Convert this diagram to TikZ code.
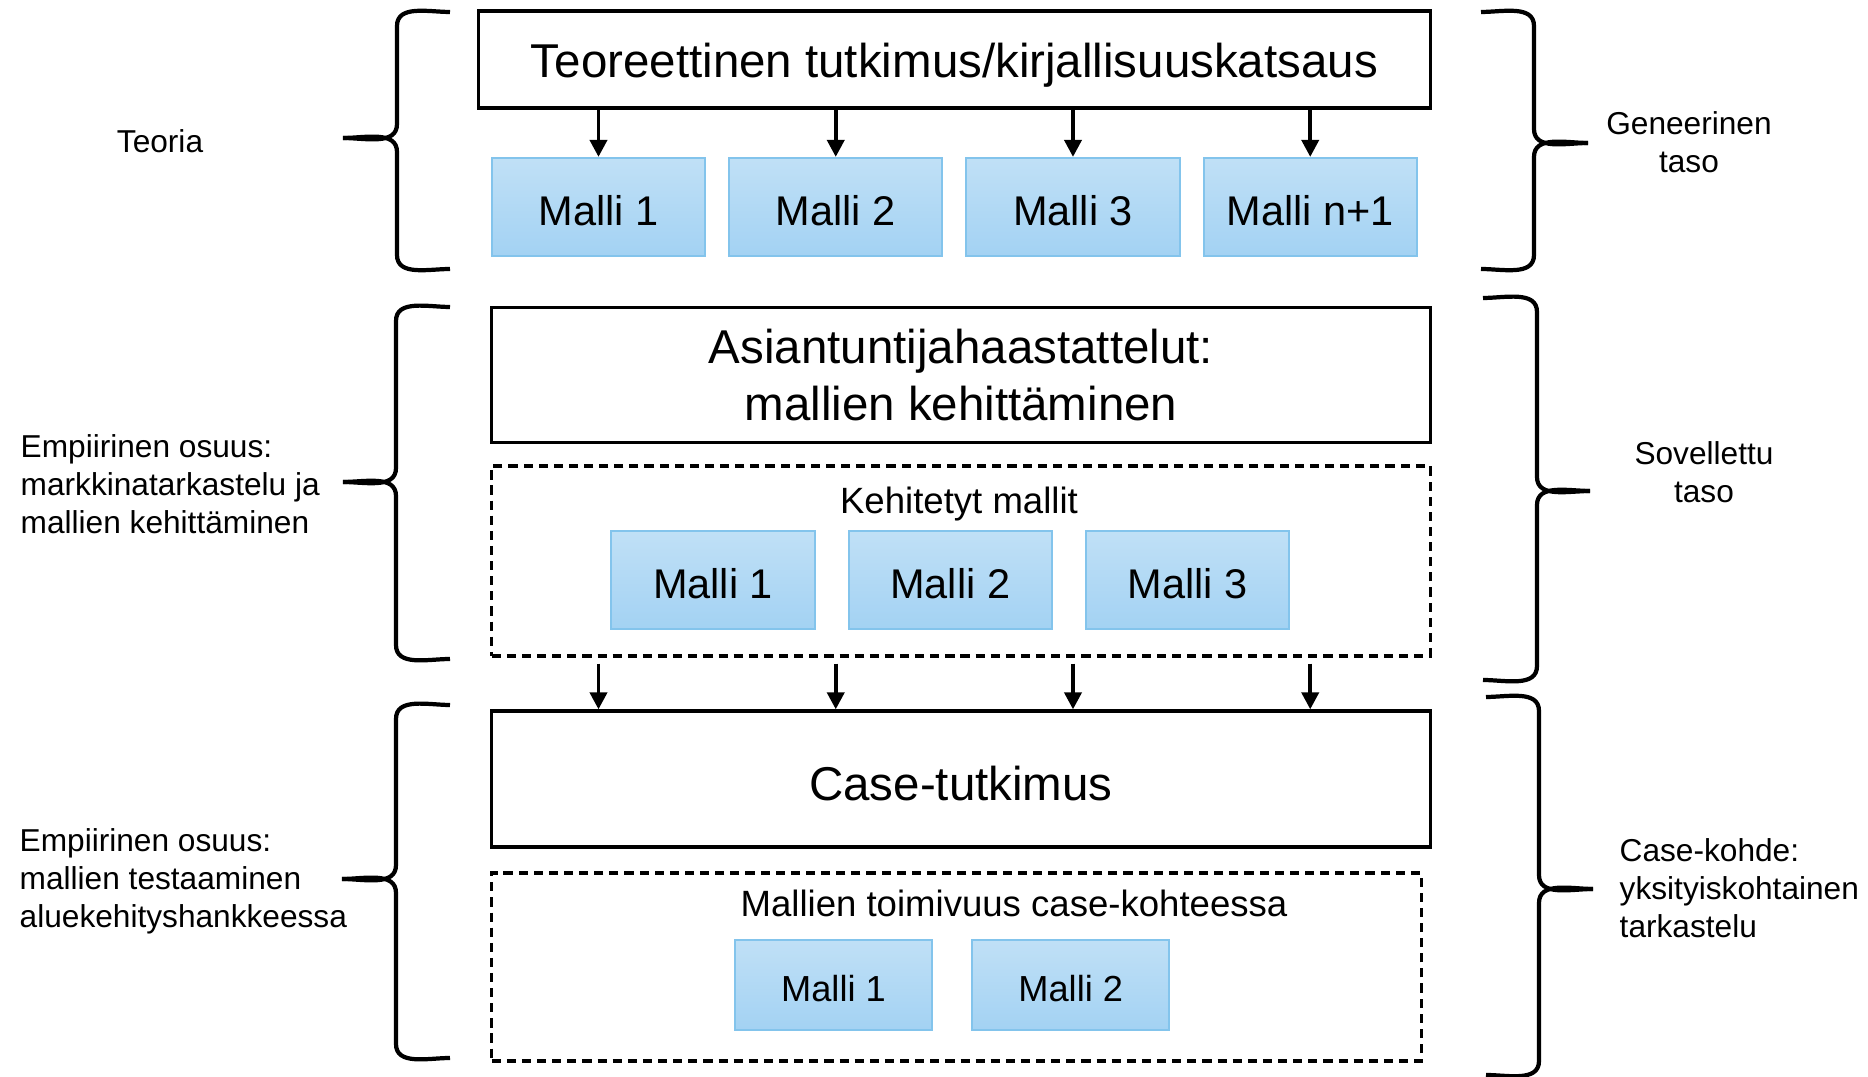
\documentclass[tikz,border=0pt]{standalone}
\usepackage{fontspec}
\setmainfont{Liberation Sans}
\usetikzlibrary{positioning,arrows.meta}
\definecolor{mtop}{HTML}{C0E0F6}
\definecolor{mbot}{HTML}{A3D2F3}
\definecolor{medge}{HTML}{83C4EC}
\tikzset{
  >={Triangle[length=1.7mm,width=1.7mm]},
  frame/.style={draw, line width=0.9pt, align=center, minimum width=9.38cm,
                font=\fontsize{13.5}{16.2}\selectfont},
  dashbox/.style={draw, line width=0.9pt, dash pattern=on 2.6pt off 1.7pt},
  malli/.style={draw=medge, line width=0.6pt, top color=mtop, bottom color=mbot,
                minimum width=2.13cm, minimum height=0.98cm, inner sep=0pt,
                text height=10.6pt, text depth=0pt,
                font=\fontsize{11.8}{14}\selectfont},
  ttl/.style={font=\fontsize{10.4}{12}\selectfont, inner sep=0pt},
  side/.style={align=left, font=\fontsize{9}{10.8}\selectfont, inner sep=0pt},
  brc/.style={line width=1.2pt},
  l/.style={->, line width=1.1pt},
}
% braces: end x, spine x, tip x, top y, tip y, bottom y
\newcommand{\bracL}[6]{%
  \draw[brc] (#1,#4) to[out=180,in=90] (#2,#4+14) -- (#2,#5-14) to[out=-90,in=0] (#3,#5);
  \draw[brc] (#3,#5) to[out=0,in=90] (#2,#5+14) -- (#2,#6-14) to[out=-90,in=180] (#1,#6);}
\newcommand{\bracR}[6]{%
  \draw[brc] (#1,#4) to[out=0,in=90] (#2,#4+14) -- (#2,#5-14) to[out=-90,in=180] (#3,#5);
  \draw[brc] (#3,#5) to[out=180,in=90] (#2,#5+14) -- (#2,#6-14) to[out=-90,in=0] (#1,#6);}

\begin{document}
\begin{tikzpicture}[x=0.01cm, y=-0.01cm]
  \useasboundingbox (0,0) rectangle (1868,1077);

  % teoria
  \node[frame, minimum width=9.51cm, minimum height=0.97cm, text height=10.5pt, text depth=0pt] (teor) at (954.5,59.5) {Teoreettinen tutkimus/kirjallisuuskatsaus};
  \node[malli] (g1) at (598.5,207) {Malli 1};
  \node[malli, right=0.22cm of g1] (g2) {Malli 2};
  \node[malli, right=0.22cm of g2] (g3) {Malli 3};
  \node[malli, right=0.22cm of g3] (g4) {Malli n+1};
  \foreach \m in {g1,g2,g3,g4} \draw[l] (teor.south -| \m) -- (\m.north);

  % sovellettu taso
  \node[frame, minimum height=1.35cm] (asi) at (961,375) {Asiantuntijahaastattelut:\\mallien kehittäminen};
  \node[dashbox, minimum width=9.38cm, minimum height=1.9cm] (kdash) at (961,561) {};
  \node[ttl] (ktit) at (959,504) {Kehitetyt mallit};
  \node[malli, minimum width=2.03cm] (k1) at (713,580) {Malli 1};
  \node[malli, minimum width=2.03cm, right=0.32cm of k1] (k2) {Malli 2};
  \node[malli, minimum width=2.03cm, right=0.32cm of k2] (k3) {Malli 3};

  % case
  \node[frame, minimum height=1.36cm, text height=12pt, text depth=0pt] (case) at (961,779) {Case-tutkimus};
  \foreach \m in {g1,g2,g3,g4} \draw[l] ([yshift=-0.06cm]kdash.south -| \m) -- (case.north -| \m);
  \node[dashbox, minimum width=9.29cm, minimum height=1.88cm] (cdash) at (956.5,967) {};
  \node[ttl] (ctit) at (1014,903) {Mallien toimivuus case-kohteessa};
  \node[malli, minimum width=1.97cm, minimum height=0.9cm, text height=9.4pt, font=\fontsize{10.3}{12}\selectfont] (c1) at (833.5,985) {Malli 1};
  \node[malli, minimum width=1.97cm, minimum height=0.9cm, text height=9.4pt, font=\fontsize{10.3}{12}\selectfont, right=0.38cm of c1] (c2) {Malli 2};

  % braces
  \bracL{450}{397}{343}{12}{138}{269}
  \bracL{450}{396}{343}{307}{482}{659}
  \bracL{450}{396}{342}{705}{879}{1058}
  \bracR{1481}{1534}{1588}{12}{143}{269}
  \bracR{1483}{1537}{1590}{298}{491}{680}
  \bracR{1486}{1539}{1593}{697}{889}{1075}

  % side labels
  \node[side] (lteo) at (160,141) {Teoria};
  \node[side, anchor=west] (lemp1) at (20,484) {Empiirinen osuus:\\markkinatarkastelu ja\\mallien kehittäminen};
  \node[side, anchor=west] (lemp2) at (19,881) {Empiirinen osuus:\\mallien testaaminen\\aluekehityshankkeessa};
  \node[side, align=center] (rgen) at (1689,142) {Geneerinen\\taso};
  \node[side, align=center] (rsov) at (1704,472) {Sovellettu\\taso};
  \node[side, anchor=west] (rcase) at (1619,888) {Case-kohde:\\yksityiskohtainen\\tarkastelu};
\end{tikzpicture}
\end{document}
